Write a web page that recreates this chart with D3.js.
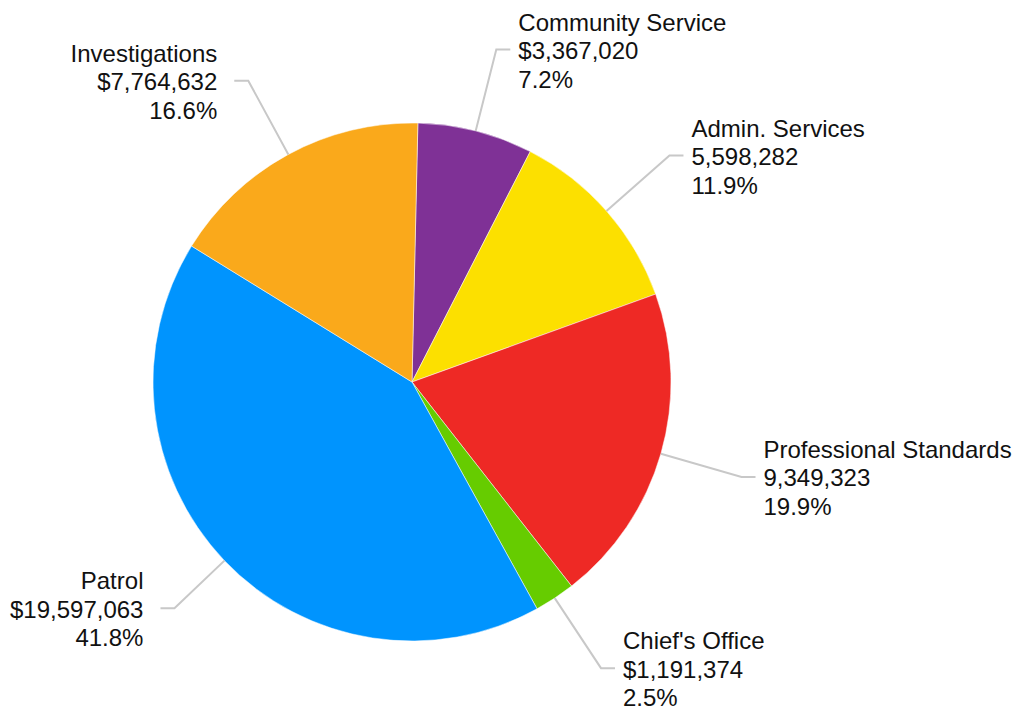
<!DOCTYPE html>
<html>
<head>
<meta charset="utf-8">
<script src="https://cdn.jsdelivr.net/npm/d3@7"></script>
<style>
  html, body { margin: 0; padding: 0; background: #fff; }
  svg { display: block; }
  text { font-family: "Liberation Sans", Arial, Helvetica, sans-serif; fill: #111; }
</style>
</head>
<body>
<svg id="chart" width="1019" height="709"></svg>
<script>
const categories = ["Community Service", "Admin. Services", "Professional Standards", "Chief's Office", "Patrol", "Investigations"];
const values = [3367020, 5598282, 9349323, 1191374, 19597063, 7764632];
const valueLabels = ["$3,367,020", "5,598,282", "9,349,323", "$1,191,374", "$19,597,063", "$7,764,632"];
const colors = ["#7F3196", "#FCE000", "#EE2925", "#66CC00", "#0094FE", "#FAA91B"];

const W = 1019, H = 709;
const cx = 412, cy = 382, R = 259;
const startAngle = 0.0227;
const elbowFactor = 1.324;
const fontSize = 24, lineGap = 28.5;
const margin = 10;

const svg = d3.select("#chart");
const g = svg.append("g").attr("transform", `translate(${cx},${cy})`);

const total = d3.sum(values);
const pct = d3.format(".1%");
const pie = d3.pie().sort(null).value(d => d.value).startAngle(startAngle).endAngle(startAngle + 2 * Math.PI);
const data = categories.map((c, i) => ({ name: c, value: values[i], label: valueLabels[i], color: colors[i] }));
const arcs = pie(data);
const arc = d3.arc().innerRadius(0).outerRadius(R);

g.selectAll("path.slice").data(arcs).enter().append("path")
  .attr("class", "slice")
  .attr("d", arc)
  .attr("fill", d => d.data.color)
  .attr("stroke", "#fff")
  .attr("stroke-width", 0.5);

const labels = g.append("g");
arcs.forEach(a => {
  const mid = (a.startAngle + a.endAngle) / 2;
  const sx = Math.sin(mid), sy = -Math.cos(mid);
  const right = sx >= 0;
  const lines = [a.data.name, a.data.label, pct(a.data.value / total)];

  const t = labels.append("text")
    .attr("font-size", fontSize)
    .attr("text-anchor", right ? "start" : "end");
  const spans = lines.map((l, i) => t.append("tspan").text(l));
  const width = d3.max(spans, s => s.node().getComputedTextLength());

  let rr = R * elbowFactor;
  let ex = rr * sx, ey = rr * sy;
  const segLen = 14;
  const gap = right ? 8 : 17;
  if (!right) {
    const minX = margin - cx + width + gap + segLen;
    if (ex < minX) { rr = minX / sx; ex = rr * sx; ey = rr * sy; }
  }
  const hx = ex + (right ? segLen : -segLen);
  labels.insert("path", "text")
    .attr("d", `M${R * sx},${R * sy}L${ex},${ey}L${hx},${ey}`)
    .attr("fill", "none")
    .attr("stroke", "#c8c8c8")
    .attr("stroke-width", 2);

  const tx = hx + (right ? gap : -gap);
  spans.forEach((s, i) => s.attr("x", tx).attr("y", ey + 9.5 + (i - 1) * lineGap));
});
</script>
</body>
</html>
